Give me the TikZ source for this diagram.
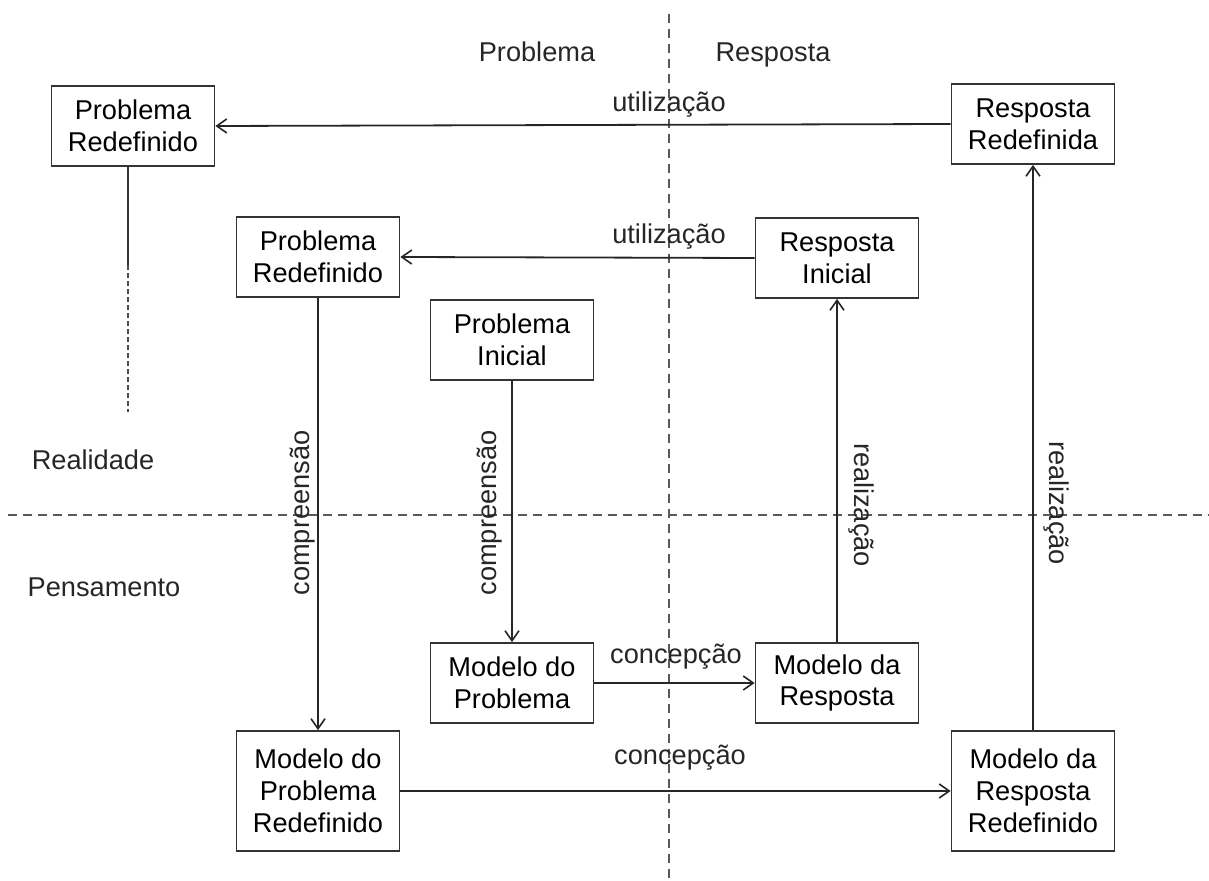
\documentclass[tikz,border=0pt]{standalone}
\usepackage{fontspec}
\setmainfont{Liberation Sans}
\usetikzlibrary{arrows.meta}
\begin{document}
\begin{tikzpicture}[x=0.5pt,y=-0.5pt,
  font=\fontsize{13.6}{15.9}\selectfont,
  box/.style={draw=black!80, line width=0.9pt, align=center, minimum width=81.5pt, minimum height=40pt, inner sep=0pt},
  tall/.style={box, minimum height=60pt},
  conn/.style={draw=black!85, line width=0.9pt, -{Straight Barb[length=5pt,width=7pt,line width=0.8pt]}},
  line/.style={draw=black!80, line width=0.9pt},
  divider/.style={draw=black!65, line width=0.9pt, dash pattern=on 4.5pt off 3pt},
  lbl/.style={inner sep=0pt, text=black!85}]
\useasboundingbox (0,0) rectangle (1209,881);
% dividers
\coordinate (vt) at (669,14);
\coordinate (vb) at (669,881);
\coordinate (hl) at (8,515);
\coordinate (hr) at (1209,515);
\draw[divider] (vt) -- (vb);
\draw[divider] (hl) -- (hr);
% nodes
\node[box] (pr1) at (133,126) {Problema\\Redefinido};
\node[box] (pr2) at (318,257) {Problema\\Redefinido};
\node[box] (rr) at (1033,124) {Resposta\\Redefinida};
\node[box] (ri) at (837,258) {Resposta\\Inicial};
\node[box] (pi) at (512,340) {Problema\\Inicial};
\node[box] (mp) at (512,683) {Modelo do\\Problema};
\node[box] (mr) at (837,683) {Modelo da\\Resposta};
\node[tall] (mpr) at (318,791) {Modelo do\\Problema\\Redefinido};
\node[tall] (mrr) at (1033,791) {Modelo da\\Resposta\\Redefinido};
% labels
\node[lbl, anchor=base] (tprob) at (537,62) {Problema};
\node[lbl, anchor=base] (tresp) at (773,62) {Resposta};
\node[lbl] (treal) at (93,460) {Realidade};
\node[lbl] (tpens) at (104,587) {Pensamento};
% connectors
\draw[conn] (rr.west) -- (pr1.east);
\draw[conn] (ri.west) -- (pr2.east);
\draw[conn] (pr2.south) -- (mpr.north);
\draw[conn] (pi.south) -- (mp.north);
\draw[conn] (mp.east) -- (mr.west);
\draw[conn] (mr.north) -- (ri.south);
\draw[conn] (mpr.east) -- (mrr.west);
\draw[conn] (mrr.north) -- (rr.south);
\coordinate (d1) at (128,265);
\coordinate (d2) at (128,412);
\draw[line] (pr1.south -| d1) -- (d1);
\draw[draw=black!70, line width=0.9pt, dash pattern=on 2.5pt off 1.5pt] (d1) -- (d2);
% edge labels
\node[lbl] (u1) at (669,105) {utilização};
\node[lbl] (u2) at (669,237) {utilização};
\node[lbl, rotate=90] (c1) at (303,513) {compreensão};
\node[lbl, rotate=90] (c2) at (490,513) {compreensão};
\node[lbl, rotate=-90] (r1) at (861,505) {realização};
\node[lbl, rotate=-90] (r2) at (1056,503) {realização};
\node[lbl] (k1) at (676,657) {concepção};
\node[lbl] (k2) at (680,758) {concepção};
\end{tikzpicture}
\end{document}
